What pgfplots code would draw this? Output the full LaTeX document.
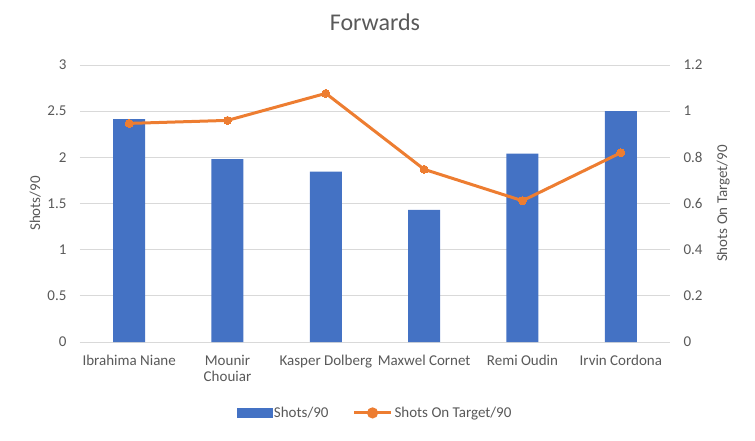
\documentclass[border=0pt]{standalone}
\usepackage{pgfplots}
\pgfplotsset{compat=1.18}
\usepackage{fontspec}
\setmainfont{Carlito}
\definecolor{xblue}{HTML}{4472C4}
\definecolor{xorange}{HTML}{ED7D31}
\definecolor{tgrey}{HTML}{595959}
\definecolor{ggrey}{HTML}{D9D9D9}
\begin{document}
\begin{tikzpicture}[x=1pt,y=1pt]
\useasboundingbox (-80,-98) rectangle (675,342);
\begin{axis}[
  at={(0,0)}, anchor=south west,
  scale only axis, width=590pt, height=277pt,
  xmin=-0.5, xmax=5.5, ymin=0, ymax=3,
  axis x line*=bottom, axis y line*=left,
  x axis line style={draw=ggrey, line width=0.8pt, -},
  y axis line style={draw=none},
  major tick length=0pt,
  ymajorgrids, grid style={ggrey, line width=0.8pt},
  ytick={0,0.5,1,1.5,2,2.5,3},
  xtick={0,1,2,3,4,5},
  xticklabels={Ibrahima Niane,{Mounir\\Chouiar},Kasper Dolberg,Maxwel Cornet,Remi Oudin,Irvin Cordona},
  xticklabel style={align=center, text=tgrey, font=\fontsize{15}{16}\selectfont, yshift=-10pt},
  yticklabel style={text=tgrey, font=\fontsize{15}{16}\selectfont, xshift=-10pt},
  /pgf/number format/assume math mode=true,
  ylabel={Shots/90},
  ylabel style={at={(axis description cs:-0.076,0.5)}, anchor=center, text=tgrey, font=\fontsize{15}{16}\selectfont},
  title={Forwards},
  title style={at={(axis description cs:0.5,1)}, anchor=center, yshift=37pt, text=tgrey, font=\fontsize{24}{26}\selectfont},
]
\addplot[ybar, bar width=32pt, fill=xblue, draw=none] coordinates {
  (0,2.415) (1,1.98) (2,1.845) (3,1.43) (4,2.04) (5,2.50)
};
\end{axis}
\begin{axis}[
  at={(0,0)}, anchor=south west,
  scale only axis, width=590pt, height=277pt,
  xmin=-0.5, xmax=5.5, ymin=0, ymax=1.2,
  axis x line=none, axis y line*=right,
  y axis line style={draw=none},
  major tick length=0pt,
  ytick={0,0.2,0.4,0.6,0.8,1,1.2},
  yticklabel style={text=tgrey, font=\fontsize{15}{16}\selectfont, xshift=10pt},
  /pgf/number format/assume math mode=true,
  ylabel={Shots On Target/90},
  ylabel style={at={(axis description cs:1.09,0.5)}, anchor=center, rotate=0, text=tgrey, font=\fontsize{15}{16}\selectfont},
  legend style={draw=none, at={(axis description cs:0.5,-0.256)}, anchor=center, legend columns=2, font=\fontsize{15}{16}\selectfont, text=tgrey, /tikz/every even column/.append style={column sep=22pt}},
]
\addlegendimage{legend image code/.code={\fill[xblue] (0pt,-4.5pt) rectangle (35pt,4.5pt);}}
\addlegendentry{Shots/90}
\addplot[xorange, line width=3pt, mark=*, mark size=4pt, mark options={fill=xorange, draw=xorange, line width=0pt},
  legend image code/.code={\draw[xorange, line width=3pt] (0pt,0pt) -- (37pt,0pt); \fill[xorange] (18.5pt,0pt) circle (4pt);}] coordinates {
  (0,0.947) (1,0.960) (2,1.077) (3,0.748) (4,0.612) (5,0.820)
};
\addlegendentry{Shots On Target/90}
\end{axis}
\end{tikzpicture}
\end{document}
